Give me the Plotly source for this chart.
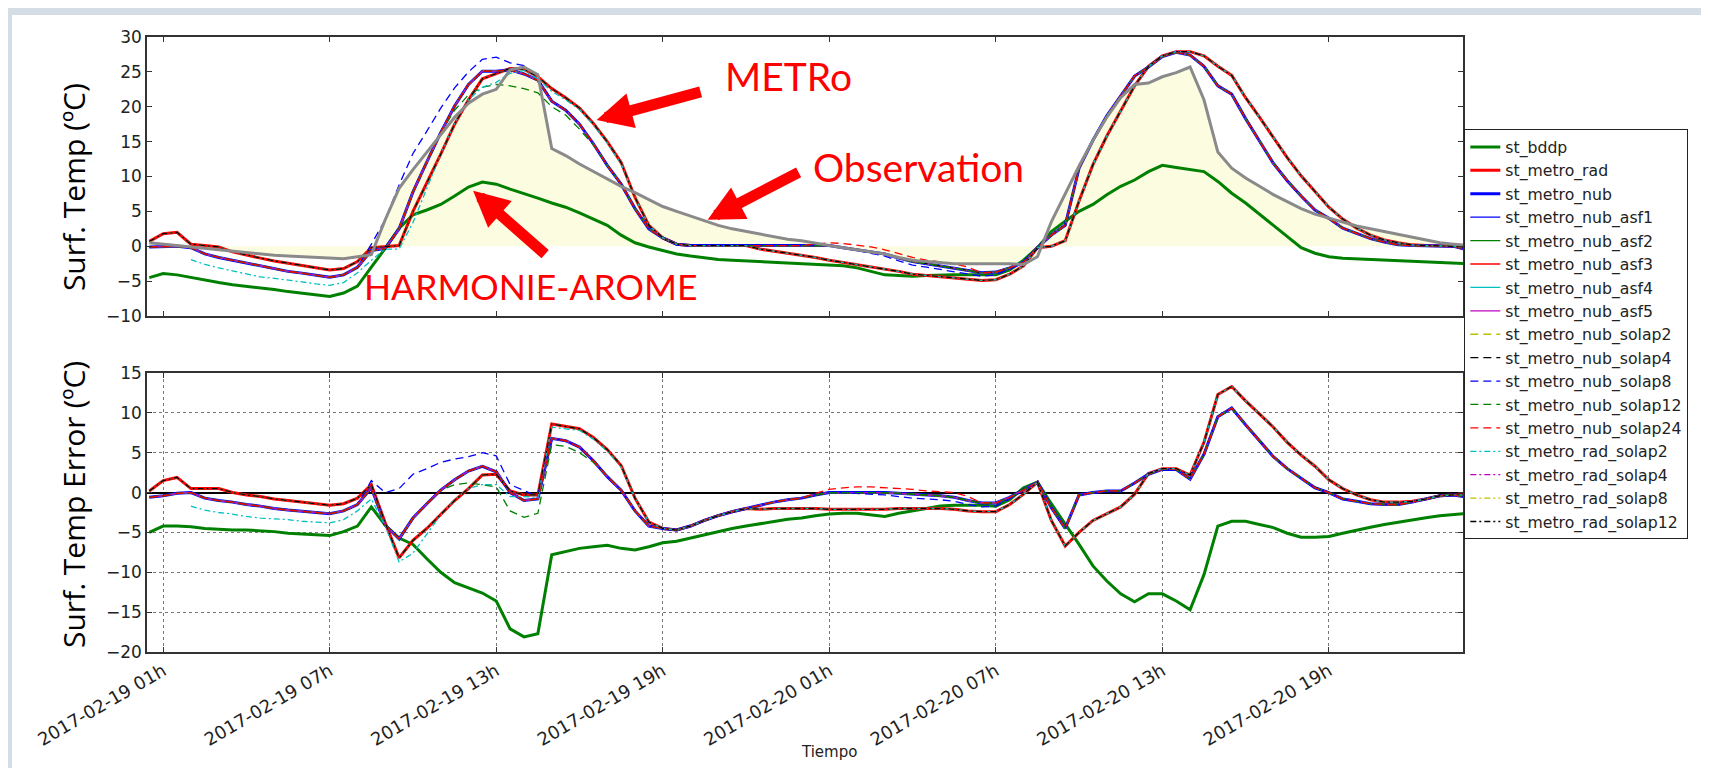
import numpy as np
import pandas as pd
import plotly.graph_objects as go
from plotly.subplots import make_subplots

# half-hourly samples, 2017-02-19 00:30 -> 2017-02-21 00:00
times = pd.date_range("2017-02-19 00:30", periods=96, freq="30min")

# observed surface temperature (grey line + yellow area)
obs = [0.5, 0.3, 0.1, -0.2, -0.4, -0.6, -0.8, -1.0, -1.2, -1.3, -1.4, -1.5, -1.7, -1.8, -1.8, -1.5, -1.2, 3.8, 8.3, 11.0, 13.5, 16.0, 18.5, 20.5,
       21.8, 22.5, 25.3, 25.7, 24.6, 14.0, 13.0, 11.8, 10.7, 9.6, 8.6, 7.7, 6.7, 5.7, 5.0, 4.3, 3.6, 3.0, 2.5, 2.1, 1.7, 1.3, 1.0, 0.8,
       0.4, 0.1, -0.2, -0.5, -0.8, -1.1, -1.6, -2.0, -2.2, -2.4, -2.5, -2.5, -2.5, -2.4, -2.5, -2.6, -1.5, 3.5, 7.5, 11.5, 15.2, 18.5, 21.3, 23.2,
       23.4, 24.3, 24.9, 25.7, 21.0, 13.5, 11.2, 9.8, 8.6, 7.4, 6.4, 5.4, 4.6, 4.0, 3.4, 2.9, 2.5, 2.1, 1.7, 1.3, 0.9, 0.5, 0.3, 0.1]

bddp = [-4.5, -3.9, -4.1, -4.5, -4.9, -5.2, -5.5, -5.7, -6.0, -6.2, -6.5, -6.7, -7.0, -7.2, -6.7, -5.7, -3.0, -0.3, 2.6, 4.5, 5.2, 6.0, 7.2, 8.5,
        9.2, 8.9, 8.2, 7.6, 6.9, 6.2, 5.6, 4.8, 3.9, 3.0, 1.6, 0.5, -0.1, -0.6, -1.1, -1.4, -1.7, -1.9, -2.0, -2.1, -2.2, -2.3, -2.35, -2.4,
        -2.5, -2.6, -2.8, -3.1, -3.6, -4.1, -4.2, -4.3, -4.2, -4.1, -4.1, -4.1, -4.1, -4.1, -3.4, -2.0, -0.2, 2.1, 3.6, 5.0, 6.0, 7.4, 8.6, 9.5,
        10.7, 11.6, 11.3, 11.0, 10.7, 9.3, 7.6, 6.2, 4.6, 3.0, 1.3, -0.2, -1.0, -1.5, -1.7, -1.8, -1.85, -1.9, -2.0, -2.1, -2.25, -2.4, -2.45, -2.5]

metro_rad = [0.7, 1.8, 2.0, 0.3, 0.1, -0.1, -0.8, -1.3, -1.7, -2.1, -2.4, -2.7, -3.1, -3.4, -3.2, -2.2, -0.2, 0.0, 0.1, 5.0, 9.0, 13.2, 17.5, 21.0,
             24.0, 24.8, 25.5, 25.4, 24.3, 22.6, 21.3, 19.8, 17.6, 15.0, 12.0, 7.0, 3.0, 1.2, 0.3, 0.1, 0.1, 0.1, 0.1, 0.1, -0.4, -0.7, -1.0, -1.2,
             -1.6, -2.0, -2.3, -2.6, -2.9, -3.2, -3.6, -4.0, -4.2, -4.4, -4.6, -4.8, -4.9, -4.8, -4.0, -2.8, -0.2, 0.0, 0.8, 6.5, 11.7, 15.8, 19.5, 23.0,
             25.8, 27.3, 27.9, 27.9, 27.3, 25.8, 24.5, 21.3, 18.5, 15.6, 12.7, 10.1, 7.9, 5.6, 3.9, 2.6, 1.6, 0.9, 0.5, 0.2, 0.1, 0.1, 0.0, -0.2]

metro_nub = [-0.1, -0.1, 0.0, -0.2, -1.1, -1.6, -2.0, -2.5, -2.9, -3.3, -3.6, -3.85, -4.2, -4.45, -4.1, -3.0, -0.6, -0.3, 2.5, 7.8, 12.1, 16.3, 20.1, 23.2,
             25.1, 25.1, 25.3, 24.7, 23.8, 20.8, 19.5, 17.5, 14.7, 11.6, 8.9, 5.4, 2.5, 1.2, 0.3, 0.1, 0.1, 0.1, 0.1, 0.1, 0.1, 0.1, 0.1, 0.1,
             0.1, 0.1, -0.2, -0.5, -0.8, -1.1, -1.7, -2.2, -2.5, -2.8, -3.1, -3.5, -3.8, -3.7, -3.1, -2.3, -0.2, 1.6, 3.0, 11.2, 15.2, 18.7, 21.5, 24.4,
             25.7, 27.2, 27.8, 27.4, 25.8, 23.0, 21.8, 18.3, 15.1, 11.9, 9.4, 7.2, 5.2, 4.0, 2.6, 1.8, 1.1, 0.6, 0.2, 0.1, 0.1, 0.1, 0.0, -0.5]

nub_solap8 = [-0.1, -0.1, 0.0, -0.2, -1.1, -1.6, -2.0, -2.5, -2.9, -3.3, -3.6, -3.85, -4.2, -4.45, -4.1, -3.0, 0.3, 3.8, 8.8, 13.3, 16.5, 19.8, 22.7, 25.0,
              26.8, 27.1, 26.3, 25.9, 24.1, 20.8, 19.5, 17.5, 14.7, 11.6, 8.9, 5.4, 2.5, 1.2, 0.3, 0.1, 0.1, 0.1, 0.1, 0.1, 0.1, 0.1, 0.1, 0.1,
              0.1, 0.1, -0.2, -0.6, -1.0, -1.4, -2.1, -2.7, -3.0, -3.3, -3.6, -4.0, -4.3, -4.1, -3.3, -2.3, -0.2, 1.6, 3.0, 11.2, 15.2, 18.7, 21.5, 24.4,
              25.7, 27.2, 27.8, 27.4, 25.8, 23.0, 21.8, 18.3, 15.1, 11.9, 9.4, 7.2, 5.2, 4.0, 2.6, 1.8, 1.1, 0.6, 0.2, 0.1, 0.1, 0.1, 0.0, -0.5]

nub_solap12 = [-0.1, -0.1, 0.0, -0.2, -1.1, -1.6, -2.0, -2.5, -2.9, -3.3, -3.6, -3.85, -4.2, -4.45, -4.1, -3.0, -0.6, -0.3, 2.5, 7.8, 12.1, 16.3, 19.5, 21.7,
               22.8, 23.2, 23.0, 22.6, 22.0, 20.0, 18.8, 16.8, 14.5, 11.6, 8.9, 5.4, 2.5, 1.2, 0.3, 0.1, 0.1, 0.1, 0.1, 0.1, 0.1, 0.1, 0.1, 0.1,
               0.1, 0.1, -0.2, -0.5, -0.8, -1.1, -1.7, -2.2, -2.5, -2.8, -3.1, -3.5, -3.8, -3.7, -3.1, -2.3, -0.2, 1.6, 3.0, 11.2, 15.2, 18.7, 21.5, 24.4,
               25.7, 27.2, 27.8, 27.4, 25.8, 23.0, 21.8, 18.3, 15.1, 11.9, 9.4, 7.2, 5.2, 4.0, 2.6, 1.8, 1.1, 0.6, 0.2, 0.1, 0.1, 0.1, 0.0, -0.5]

nub_solap24 = [-0.1, -0.1, 0.0, -0.2, -1.1, -1.6, -2.0, -2.5, -2.9, -3.3, -3.6, -3.85, -4.2, -4.45, -4.1, -3.0, -0.6, -0.3, 2.5, 7.8, 12.1, 16.3, 20.1, 23.2,
               25.1, 25.1, 25.3, 24.7, 23.8, 20.8, 19.5, 17.5, 14.7, 11.6, 8.9, 5.4, 2.5, 1.2, 0.3, 0.1, 0.1, 0.1, 0.1, 0.1, 0.1, 0.1, 0.1, 0.1,
               0.3, 0.5, 0.4, 0.2, -0.1, -0.5, -1.1, -1.6, -2.0, -2.3, -2.5, -3.0, -3.8, -3.7, -3.1, -2.3, -0.2, 1.6, 3.0, 11.2, 15.2, 18.7, 21.5, 24.4,
               25.7, 27.2, 27.8, 27.4, 25.8, 23.0, 21.8, 18.3, 15.1, 11.9, 9.4, 7.2, 5.2, 4.0, 2.6, 1.8, 1.1, 0.6, 0.2, 0.1, 0.1, 0.1, 0.0, -0.5]

rad_solap2 = [None, None, None, -1.9, -2.6, -3.1, -3.5, -4.0, -4.4, -4.6, -4.8, -5.1, -5.4, -5.6, -5.2, -3.8, -2.0, -0.4, -0.4, 3.4, 8.3, 13.2, 17.6, 21.0,
              22.8, 23.5, 24.8, 25.2, 24.0, 22.2, 21.0, 19.6, 17.4, 14.8, 11.8, 7.0, 3.0, 1.2, 0.3, 0.1, 0.1, 0.1, 0.1, 0.1, -0.4, -0.7, -1.0, -1.2,
              -1.6, -2.0, -2.3, -2.6, -2.9, -3.2, -3.6, -4.0, -4.2, -4.4, -4.6, -4.8, -4.9, -4.8, -4.0, -2.8, -0.2, 0.0, 0.8, 6.5, 11.7, 15.8, 19.5, 23.0,
              25.8, 27.3, 27.9, 27.9, 27.3, 25.8, 24.5, 21.3, 18.5, 15.6, 12.7, 10.1, 7.9, 5.6, 3.9, 2.6, 1.6, 0.9, 0.5, 0.2, 0.1, 0.1, 0.0, -0.2]

names = ["st_bddp", "st_metro_rad", "st_metro_nub",
         "st_metro_nub_asf1", "st_metro_nub_asf2", "st_metro_nub_asf3", "st_metro_nub_asf4", "st_metro_nub_asf5",
         "st_metro_nub_solap2", "st_metro_nub_solap4", "st_metro_nub_solap8", "st_metro_nub_solap12", "st_metro_nub_solap24",
         "st_metro_rad_solap2", "st_metro_rad_solap4", "st_metro_rad_solap8", "st_metro_rad_solap12"]
runs = [bddp, metro_rad, metro_nub,
        metro_nub, metro_nub, metro_nub, metro_nub, metro_nub,
        metro_nub, metro_nub, nub_solap8, nub_solap12, nub_solap24,
        rad_solap2, metro_rad, metro_rad, metro_rad]

colors = ["#008000", "#ff0000", "#0000ff",
          "#0000ff", "#008000", "#ff0000", "#00bfbf", "#bf00bf",
          "#bfbf00", "#000000", "#0000ff", "#008000", "#ff0000",
          "#00bfbf", "#bf00bf", "#bfbf00", "#000000"]
widths = [3, 3, 3] + [1.3] * 14
dashes = ["solid"] * 8 + ["8px,5px"] * 5 + ["6px,3px,2px,3px"] * 4

fig = make_subplots(rows=2, cols=1, shared_xaxes=True, vertical_spacing=0.09)

obs_arr = np.array(obs, dtype=float)

# yellow area between the observation and zero
fig.add_trace(go.Scatter(x=times, y=obs, mode='lines', line=dict(width=0),
                         fill='tozeroy', fillcolor='#fcfce1', showlegend=False,
                         hoverinfo='skip'), row=1, col=1)

for name, run, color, width, dash in zip(names, runs, colors, widths, dashes):
    run = np.array(run, dtype=float)
    style = dict(color=color, width=width, dash=dash)
    fig.add_trace(go.Scatter(x=times, y=run, mode='lines', name=name,
                             legendgroup=name, line=style), row=1, col=1)
    # error = model - observation
    fig.add_trace(go.Scatter(x=times, y=np.round(run - obs_arr, 2), mode='lines',
                             name=name, legendgroup=name, showlegend=False,
                             line=style), row=2, col=1)

fig.add_trace(go.Scatter(x=times, y=obs, mode='lines', name='observation',
                         line=dict(color='#8a8a8a', width=3), showlegend=False),
              row=1, col=1)

tick_font = dict(family='DejaVu Sans', size=17, color='#222222')
frame = dict(showline=True, linecolor='#333333', linewidth=1.5, mirror='allticks',
             ticks='inside', ticklen=5, tickcolor='#333333', tickfont=tick_font)

fig.update_xaxes(range=["2017-02-19 00:25", "2017-02-20 23:50"],
                 tick0="2017-02-19 01:00", dtick=6 * 3600 * 1000,
                 tickformat="%Y-%m-%d %Hh", **frame)
fig.update_xaxes(showticklabels=False, showgrid=False, row=1, col=1)
fig.update_xaxes(showgrid=True, griddash='dot', gridcolor='#777777', gridwidth=1,
                 tickangle=-30, tickfont=dict(family='DejaVu Sans', size=18, color='#222222'),
                 row=2, col=1)

fig.update_yaxes(**frame)
fig.update_yaxes(range=[-10, 30], tick0=-10, dtick=5, showgrid=False,
                 zeroline=False, domain=[0.5463, 1], row=1, col=1)
fig.update_yaxes(range=[-20, 15], tick0=-20, dtick=5, showgrid=True,
                 griddash='dot', gridcolor='#777777', gridwidth=1,
                 zeroline=True, zerolinecolor='black', zerolinewidth=1.5,
                 domain=[0, 0.4537], row=2, col=1)


def red_text(size):
    return dict(family='Lato', size=size, color='#ff0000')


arrow = dict(text=' ', showarrow=True, arrowhead=2, arrowwidth=11, arrowsize=0.65,
             arrowcolor='#ff0000', xref='x', yref='y')
annotations = [
    dict(x="2017-02-19 23:31", y=24.4, text='METRo', showarrow=False, xref='x', yref='y', font=red_text(39)),
    dict(x="2017-02-20 04:13", y=11.3, text='Observation', showarrow=False, xref='x', yref='y', font=red_text(39)),
    dict(x="2017-02-19 14:14", y=-5.8, text='HARMONIE-AROME', showarrow=False, xref='x', yref='y', font=red_text(35.5)),
    dict(x="2017-02-19 16:37", y=18.1, ax=107, ay=-29, **arrow),
    dict(x="2017-02-19 20:37", y=3.8, ax=94, ay=-49, **arrow),
    dict(x="2017-02-19 12:10", y=7.95, ax=75, ay=66, **arrow),
    dict(x=-0.0562, y=0.756, xref='paper', yref='paper', text='Surf. Temp (ºC)',
         textangle=-90, showarrow=False, xanchor='center', yanchor='middle',
         font=dict(family='Open Sans', size=30, color='black')),
    dict(x=-0.0562, y=0.239, xref='paper', yref='paper', text='Surf. Temp Error (ºC)',
         textangle=-90, showarrow=False, xanchor='center', yanchor='middle',
         font=dict(family='Open Sans', size=30, color='black')),
    dict(x=0.518, y=-0.18, xref='paper', yref='paper', text='Tiempo', showarrow=False,
         font=dict(family='DejaVu Sans', size=15, color='#222222')),
]

fig.update_layout(
    width=1709, height=768,
    margin=dict(l=139, r=254, t=29, b=124),
    paper_bgcolor='#d4dce6', plot_bgcolor='white',
    shapes=[dict(type='rect', xref='paper', yref='paper', x0=-0.1026, x1=1.1923,
                 y0=-0.2016, y1=1.0358, fillcolor='white', line=dict(width=0),
                 layer='below')],
    annotations=annotations,
    legend=dict(x=1.001, y=0.85, xanchor='left', yanchor='top', bgcolor='white',
                bordercolor='#222222', borderwidth=1, tracegroupgap=0,
                font=dict(family='DejaVu Sans', size=15.7, color='#222222')),
    showlegend=True,
)

fig.write_html("out.html")
